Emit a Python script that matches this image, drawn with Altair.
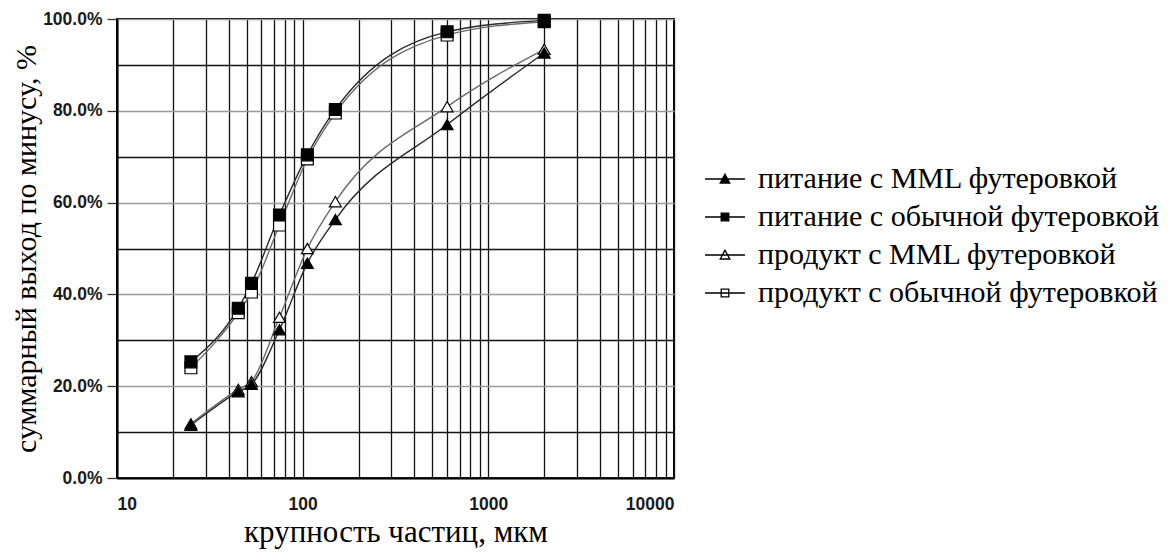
import altair as alt
import pandas as pd

sizes = [25, 45, 53, 75, 106, 150, 600, 2000]
feed_mml = [11.5, 18.8, 20.4, 32.3, 46.8, 56.3, 77.0, 92.6]
feed_ord = [25.3, 37.0, 42.4, 57.3, 70.4, 80.3, 97.2, 99.7]
prod_mml = [11.8, 19.3, 21.0, 35.0, 50.0, 60.2, 80.9, 93.4]
prod_ord = [24.0, 36.0, 40.5, 55.1, 69.5, 79.5, 96.5, 99.4]

series_names = [
    "питание с MML футеровкой",
    "питание с обычной футеровкой",
    "продукт с MML футеровкой",
    "продукт с обычной футеровкой",
]
series_values = [feed_mml, feed_ord, prod_mml, prod_ord]

rows = []
for name, vals in zip(series_names, series_values):
    for s, v in zip(sizes, vals):
        rows.append({"series": name, "size": s, "value": v / 100.0})
df = pd.DataFrame(rows)

x_ticks = [10, 20, 30, 40, 50, 60, 70, 80, 90,
           100, 200, 300, 400, 500, 600, 700, 800, 900,
           1000, 2000, 3000, 4000, 5000, 6000, 7000, 8000, 9000, 10000]
y_ticks = [0.0, 0.1, 0.2, 0.3, 0.4, 0.5, 0.6, 0.7, 0.8, 0.9, 1.0]

SERIF = "Liberation Serif"
odd = "round(datum.value*10) % 2 == 1"

x_enc = alt.X(
    "size:Q",
    scale=alt.Scale(type="log", domain=[10, 10000], nice=False),
    axis=alt.Axis(
        values=x_ticks,
        format="d",
        labelExpr="indexof(['10','100','1000','10000'], datum.label) >= 0 ? datum.label : ''",
        labelOverlap=False,
        ticks=False,
        labelPadding=17,
        grid=True,
        gridColor="#111111",
        gridWidth=1.3,
        title="крупность частиц, мкм",
        titleFontSize=31,
        titlePadding=5,
        domainColor="black",
        domainWidth=2,
    ),
)
y_enc = alt.Y(
    "value:Q",
    scale=alt.Scale(domain=[0, 1], nice=False),
    axis=alt.Axis(
        values=y_ticks,
        format=".1%",
        labelExpr="round(datum.value*10) % 2 == 0 ? datum.label : ''",
        labelOverlap=False,
        grid=True,
        gridColor={"condition": {"test": odd, "value": "#111111"}, "value": "#9a9a9a"},
        gridWidth=1.5,
        tickColor={"condition": {"test": odd, "value": "transparent"}, "value": "#333333"},
        tickSize=10,
        tickWidth=1.3,
        labelPadding=5,
        title="суммарный выход по минусу, %",
        titleFontSize=30,
        titlePadding=1,
        domainColor="black",
        domainWidth=2,
    ),
)

base = alt.Chart(df)

lines = base.mark_line(interpolate="monotone", strokeWidth=1.4).encode(
    x=x_enc,
    y=y_enc,
    color=alt.Color(
        "series:N",
        scale=alt.Scale(domain=series_names, range=["#2a2a2a", "#2a2a2a", "#6a6a6a", "#6a6a6a"]),
        legend=None,
    ),
    detail="series:N",
)

order_expr = "indexof(['продукт с MML футеровкой','продукт с обычной футеровкой','питание с MML футеровкой','питание с обычной футеровкой'], datum.series)"

points = base.transform_calculate(ord=order_expr).mark_point(
    stroke="black", strokeWidth=1.2, opacity=1, filled=False, fillOpacity=1
).encode(
    x="size:Q",
    y="value:Q",
    shape=alt.Shape(
        "series:N",
        scale=alt.Scale(domain=series_names, range=["triangle-up", "square", "triangle-up", "square"]),
        legend=None,
    ),
    fill=alt.Fill(
        "series:N",
        scale=alt.Scale(domain=series_names, range=["black", "black", "white", "white"]),
        legend=None,
    ),
    size=alt.value(140),
    order=alt.Order("ord:Q"),
)

tri_path = "M-1,0H1M0,-0.24L0.24,0.2L-0.24,0.2Z"
sq_path = "M-1,0H1M-0.19,-0.19H0.19V0.19H-0.19Z"

def make_legend():
    return alt.Legend(
        title=None,
        orient="none",
        legendX=587,
        legendY=139,
        symbolSize=1600,
        symbolStrokeWidth=1.3,
        labelFont=SERIF,
        labelFontSize=30,
        labelColor="black",
        labelLimit=700,
        labelOffset=12,
        rowPadding=2,
    )

legend_layer = base.transform_filter("false").mark_point(
    stroke="black", strokeWidth=1.3, opacity=1, filled=False, fillOpacity=1
).encode(
    x="size:Q",
    y="value:Q",
    shape=alt.Shape(
        "series:N",
        scale=alt.Scale(domain=series_names, range=[tri_path, sq_path, tri_path, sq_path]),
        legend=make_legend(),
    ),
    fill=alt.Fill(
        "series:N",
        scale=alt.Scale(domain=series_names, range=["black", "black", "white", "white"]),
        legend=make_legend(),
    ),
)

chart = alt.layer(lines, points, legend_layer).resolve_scale(
    shape="independent", fill="independent"
).properties(
    width=557, height=459, background="white",
    padding={"left": 3, "top": 2, "right": 5, "bottom": 5},
).configure_view(
    stroke="black", strokeWidth=2
).configure_axis(
    labelFont="Liberation Sans",
    labelFontWeight="bold",
    labelFontSize=17.5,
    labelColor="#1a1a1a",
    titleFont=SERIF,
    titleFontWeight="normal",
    titleColor="black",
)

chart.save("out.html", embed_options={"renderer": "svg", "actions": False})
